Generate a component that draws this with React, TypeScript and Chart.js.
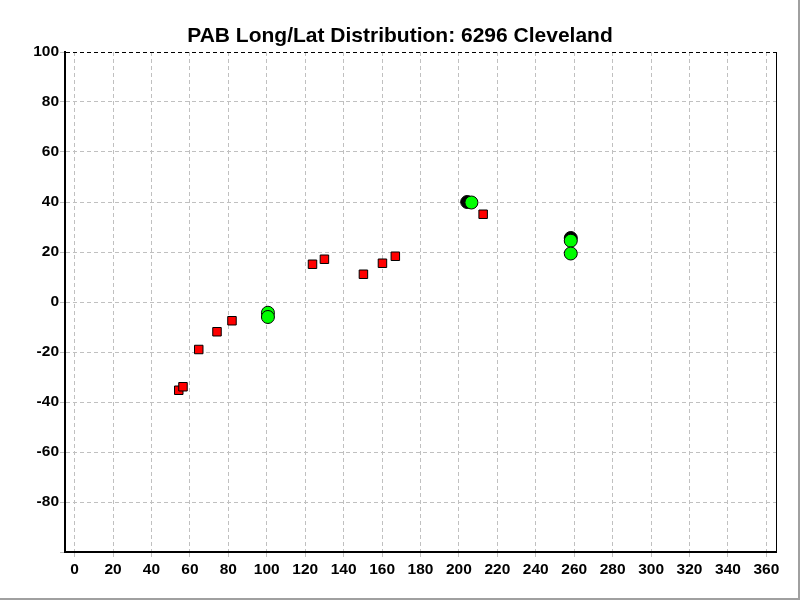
import React, { useEffect, useRef } from "react";
import { Chart, registerables } from "chart.js";

Chart.register(...registerables);

const TITLE = "PAB Long/Lat Distribution: 6296 Cleveland";

// Red squares (long, lat)
const redLong = [54.2, 56.4, 64.6, 74.1, 81.9, 123.8, 130.0, 150.3, 160.2, 166.9, 212.6];
const redLat = [-35.3, -33.9, -19.0, -11.9, -7.5, 15.1, 17.1, 11.1, 15.5, 18.3, 35.1];

// Green circles
const greenLong = [100.6, 100.6, 206.5, 258.2, 258.2];
const greenLat = [-4.3, -6.0, 39.8, 24.5, 19.4];

// Black circles (partially hidden)
const blackLong = [204.3, 258.2];
const blackLat = [40.0, 25.6];

const X_MIN = -5;
const X_MAX = 365;
const Y_MIN = -100;
const Y_MAX = 100;
const STEP = 20;

const toPts = (xs: number[], ys: number[]) => xs.map((x, i) => ({ x, y: ys[i] }));

const framePlugin = {
  id: "frame",
  afterDraw(chart: any) {
    const { ctx, chartArea } = chart;
    ctx.save();
    ctx.strokeStyle = "#000000";
    ctx.lineWidth = 1;
    ctx.setLineDash([]);
    ctx.beginPath();
    ctx.moveTo(Math.round(chartArea.right) + 0.5, chartArea.top);
    ctx.lineTo(Math.round(chartArea.right) + 0.5, chartArea.bottom);
    ctx.stroke();
    ctx.strokeStyle = "#a0a0a0";
    ctx.lineWidth = 2;
    ctx.beginPath();
    ctx.moveTo(799, 0);
    ctx.lineTo(799, 600);
    ctx.moveTo(0, 599);
    ctx.lineTo(800, 599);
    ctx.stroke();
    ctx.restore();
  },
};

export default function App() {
  const ref = useRef<HTMLCanvasElement | null>(null);

  useEffect(() => {
    if (!ref.current) return;
    const font = { family: "'Liberation Sans', Arial, sans-serif", weight: "bold" as const, size: 15.5 };
    const chart = new Chart(ref.current, {
      type: "scatter",
      data: {
        datasets: [
          {
            label: "green",
            data: toPts(greenLong, greenLat),
            pointStyle: "circle",
            pointRadius: 6.5,
            backgroundColor: "#00ff00",
            borderColor: "#000000",
            borderWidth: 1,
          },
          {
            label: "black",
            data: toPts(blackLong, blackLat),
            pointStyle: "circle",
            pointRadius: 6.5,
            backgroundColor: "#000000",
            borderColor: "#000000",
            borderWidth: 1,
          },
          {
            label: "red",
            data: toPts(redLong, redLat),
            pointStyle: "rect",
            pointRadius: 6,
            backgroundColor: "#ff0000",
            borderColor: "#000000",
            borderWidth: 1,
          },
        ],
      },
      options: {
        responsive: false,
        animation: false,
        layout: { padding: 0 },
        plugins: {
          legend: { display: false },
          tooltip: { enabled: false },
          title: {
            display: true,
            text: TITLE,
            color: "#000000",
            font: { family: "'Liberation Sans', Arial, sans-serif", weight: "bold", size: 21 },
            padding: { top: 24, bottom: 2.8 },
          },
        },
        scales: {
          x: {
            type: "linear",
            min: X_MIN,
            max: X_MAX,
            afterFit(scale: any) {
              scale.height = 48;
              scale.paddingLeft = 0;
              scale.paddingRight = 24;
            },
            ticks: {
              stepSize: STEP,
              includeBounds: false,
              color: "#000000",
              font,
              padding: 0,
              maxRotation: 0,
              autoSkip: false,
            },
            grid: {
              color: "#c0c0c0",
              tickColor: "#c0c0c0",
              tickLength: 8,
              tickBorderDash: [4, 3],
            },
            border: { color: "#000000", width: 2, dash: [4, 3] },
          },
          y: {
            type: "linear",
            min: Y_MIN,
            max: Y_MAX,
            afterFit(scale: any) {
              scale.width = 65;
              scale.paddingTop = 0;
              scale.paddingBottom = 0;
            },
            ticks: {
              stepSize: STEP,
              color: "#000000",
              font,
              padding: 1,
              autoSkip: false,
              callback: (v: any) => (Number(v) === Y_MIN ? "" : String(v)),
            },
            grid: {
              color: (c: any) => (c.tick && c.tick.value === Y_MAX ? "#000000" : "#c0c0c0"),
              tickColor: "#c0c0c0",
              tickLength: 5,
              tickBorderDash: [4, 3],
            },
            border: { color: "#000000", width: 2, dash: [4, 3] },
          },
        },
      },
      plugins: [framePlugin],
    });
    return () => chart.destroy();
  }, []);

  return (
    <div style={{ position: "fixed", left: 0, top: 0, width: 800, height: 600, background: "#ffffff" }}>
      <canvas ref={ref} width={800} height={600} style={{ display: "block" }} />
    </div>
  );
}
